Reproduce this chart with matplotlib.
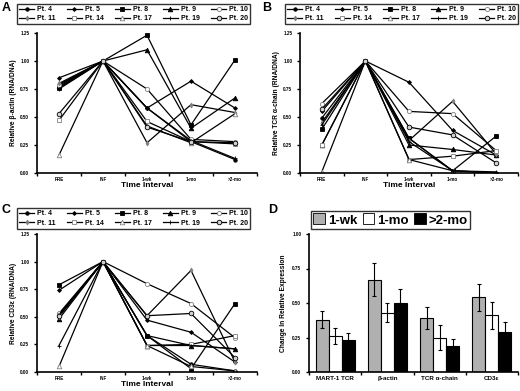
import numpy as np
import matplotlib
matplotlib.use("Agg")
import matplotlib.pyplot as plt
from matplotlib.patches import Patch

plt.rcParams['font.family'] = ['Liberation Sans', 'DejaVu Sans']
plt.rcParams['font.weight'] = 'bold'

# data
times = ['PRE', 'INF', '1-wk', '1-mo', '>2-mo']
patients = ['Pt. 4', 'Pt. 5', 'Pt. 8', 'Pt. 9', 'Pt. 10',
            'Pt. 11', 'Pt. 14', 'Pt. 17', 'Pt. 19', 'Pt. 20']

actin = [
    [0.77, 1, 0.58, 0.28, 0.12],
    [0.85, 1, 0.58, 0.82, 0.58],
    [0.76, 1, 1.23, 0.43, 1.01],
    [0.78, 1, 1.10, 0.40, 0.67],
    [0.79, 1, 0.75, 0.30, 0.28],
    [0.80, 1, 0.27, 0.61, 0.54],
    [0.47, 1, 0.46, 0.28, 0.26],
    [0.16, 1, 0.42, 0.27, 0.53],
    [0.75, 1, 0.58, 0.29, 0.13],
    [0.53, 1, 0.41, 0.28, 0.27],
]
tcr = [
    [0.49, 1, 0.31, 0.02, 0.00],
    [0.55, 1, 0.81, 0.38, 0.16],
    [0.39, 1, 0.31, 0.02, 0.33],
    [0.25, 1, 0.25, 0.21, 0.16],
    [0.62, 1, 0.55, 0.53, 0.20],
    [0.45, 1, 0.29, 0.64, 0.17],
    [0.25, 1, 0.12, 0.15, 0.20],
    [0.01, 1, 0.12, 0.02, 0.00],
    [0.43, 1, 0.28, 0.02, 0.01],
    [0.57, 1, 0.41, 0.34, 0.09],
]
cd3 = [
    [0.51, 1, 0.33, 0.07, 0.01],
    [0.74, 1, 0.47, 0.36, 0.09],
    [0.79, 1, 0.33, 0.03, 0.62],
    [0.48, 1, 0.24, 0.24, 0.21],
    [0.53, 1, 0.80, 0.62, 0.31],
    [0.50, 1, 0.51, 0.92, 0.09],
    [0.52, 1, 0.24, 0.25, 0.33],
    [0.05, 1, 0.24, 0.05, 0.01],
    [0.24, 1, 0.33, 0.24, 0.21],
    [0.51, 1, 0.51, 0.53, 0.13],
]

genes = ['MART-1 TCR', 'β-actin', 'TCR α-chain', 'CD3ε']
periods = ['1-wk', '1-mo', '>2-mo']
change = [[0.38, 0.67, 0.39, 0.54],
          [0.26, 0.43, 0.25, 0.41],
          [0.23, 0.50, 0.19, 0.29]]
change_err = [[0.06, 0.12, 0.08, 0.10],
              [0.06, 0.07, 0.09, 0.10],
              [0.05, 0.10, 0.05, 0.07]]

# marker style per patient
styles = [
    dict(marker='o', ms=2.5, mfc='black'),
    dict(marker='D', ms=2, mfc='black'),
    dict(marker='s', ms=3.3, mfc='black'),
    dict(marker='^', ms=3.3, mfc='black'),
    dict(marker='o', ms=3, mfc='white', mec='gray'),
    dict(marker='d', ms=2.5, mfc='gray', mec='gray'),
    dict(marker='s', ms=3.3, mfc='white', mec='gray'),
    dict(marker='^', ms=3.3, mfc='white', mec='gray'),
    dict(marker='+', ms=3.3, mfc='black'),
    dict(marker='o', ms=3.3, mfc='lightgray', mec='black'),
]

W, H = 520, 391
fig = plt.figure(figsize=(W / 100, H / 100), dpi=100)


def box(l, t, r, b):
    return [l / W, 1 - b / H, (r - l) / W, (b - t) / H]


def style_axis(ax, ymax):
    for s in ['top', 'right']:
        ax.spines[s].set_visible(False)
    ax.spines['left'].set_linewidth(1.2)
    ax.spines['bottom'].set_linewidth(1.2)
    ax.set_ylim(0, ymax)
    ax.set_yticks(np.arange(0, ymax + 0.01, 0.25))
    ax.set_yticklabels([f'{v:.2f}' for v in np.arange(0, ymax + 0.01, 0.25)])
    ax.tick_params(axis='y', labelsize=3.3, length=2, width=1)


def line_panel(rect, legrect, data, ylabel, letter, letterpos):
    ax = fig.add_axes(box(*rect))
    x = np.arange(len(times))
    handles = []
    for i, pt in enumerate(patients):
        st = dict(styles[i])
        st.setdefault('mec', 'black')
        h, = ax.plot(x, data[i], color='black', lw=0.9, label=pt, mew=0.6, **st)
        handles.append(h)
    style_axis(ax, 1.25)
    ax.set_xlim(-0.5, 4.5)
    ax.set_xticks(np.arange(-0.5, 4.6, 1))
    ax.set_xticklabels([])
    ax.set_xticks(x, minor=True)
    ax.set_xticklabels(times, minor=True)
    ax.tick_params(axis='x', which='major', length=2, width=1)
    ax.tick_params(axis='x', which='minor', length=0, labelsize=3.3, pad=3)
    ax.set_xlabel('Time Interval', fontsize=6, fontweight='bold', labelpad=0)
    ax.set_ylabel(ylabel, fontsize=4.8, fontweight='bold', labelpad=2)
    # legend: two rows of five, column-major ordering
    order = [0, 5, 1, 6, 2, 7, 3, 8, 4, 9]
    fig.legend([handles[k] for k in order], [patients[k] for k in order],
               loc='center', bbox_to_anchor=box(*legrect), mode='expand',
               ncol=5, fontsize=5, frameon=True, fancybox=False,
               edgecolor='black', handlelength=2.2, handletextpad=0.4,
               borderaxespad=0, borderpad=0.3, labelspacing=0.3,
               columnspacing=0.8)
    fig.text(letterpos[0] / W, 1 - letterpos[1] / H, letter,
             fontsize=9, fontweight='bold', ha='left', va='center')
    return ax


line_panel((37, 33, 257, 173), (17, 3, 250, 25), actin,
           'Relative β-actin (RNA/DNA)', 'A', (2, 8))
line_panel((300, 33, 518, 173), (285, 3, 518, 25), tcr,
           'Relative TCR α-chain (RNA/DNA)', 'B', (262, 8))
line_panel((37, 234, 257, 372), (17, 208, 250, 229), cd3,
           'Relative CD3ε (RNA/DNA)', 'C', (2, 210))

# panel D - grouped bars
axd = fig.add_axes(box(309, 234, 518, 372))
xg = np.arange(len(genes))
colors = ['#b0b0b0', 'white', 'black']
bw = 0.25
for k, p in enumerate(periods):
    axd.bar(xg + (k - 1) * bw, change[k], bw, yerr=change_err[k],
            color=colors[k], edgecolor='black', linewidth=0.8,
            error_kw=dict(elinewidth=0.8, capsize=1.5, capthick=0.8),
            label=p)
style_axis(axd, 1.0)
axd.set_xlim(-0.5, 3.5)
axd.set_xticks(np.arange(-0.5, 3.6, 1))
axd.set_xticklabels([])
axd.set_xticks(xg, minor=True)
axd.set_xticklabels(genes, minor=True)
axd.tick_params(axis='x', which='major', length=2, width=1)
axd.tick_params(axis='x', which='minor', length=0, labelsize=4.5, pad=3)
axd.set_ylabel('Change In Relative Expression', fontsize=4.8,
               fontweight='bold', labelpad=4)
fig.legend(handles=[Patch(facecolor=c, edgecolor='black', linewidth=0.6)
                    for c in colors],
           labels=periods, loc='center', bbox_to_anchor=box(318, 212, 463, 228),
           ncol=3, fontsize=9.5, frameon=True, fancybox=False,
           edgecolor='black', handlelength=0.9, handleheight=0.9,
           handletextpad=0.2, columnspacing=0.4, borderpad=0.2,
           borderaxespad=0)
fig.text(268 / W, 1 - 210 / H, 'D', fontsize=9, fontweight='bold',
         ha='left', va='center')

fig.savefig('out.png', dpi=100)
